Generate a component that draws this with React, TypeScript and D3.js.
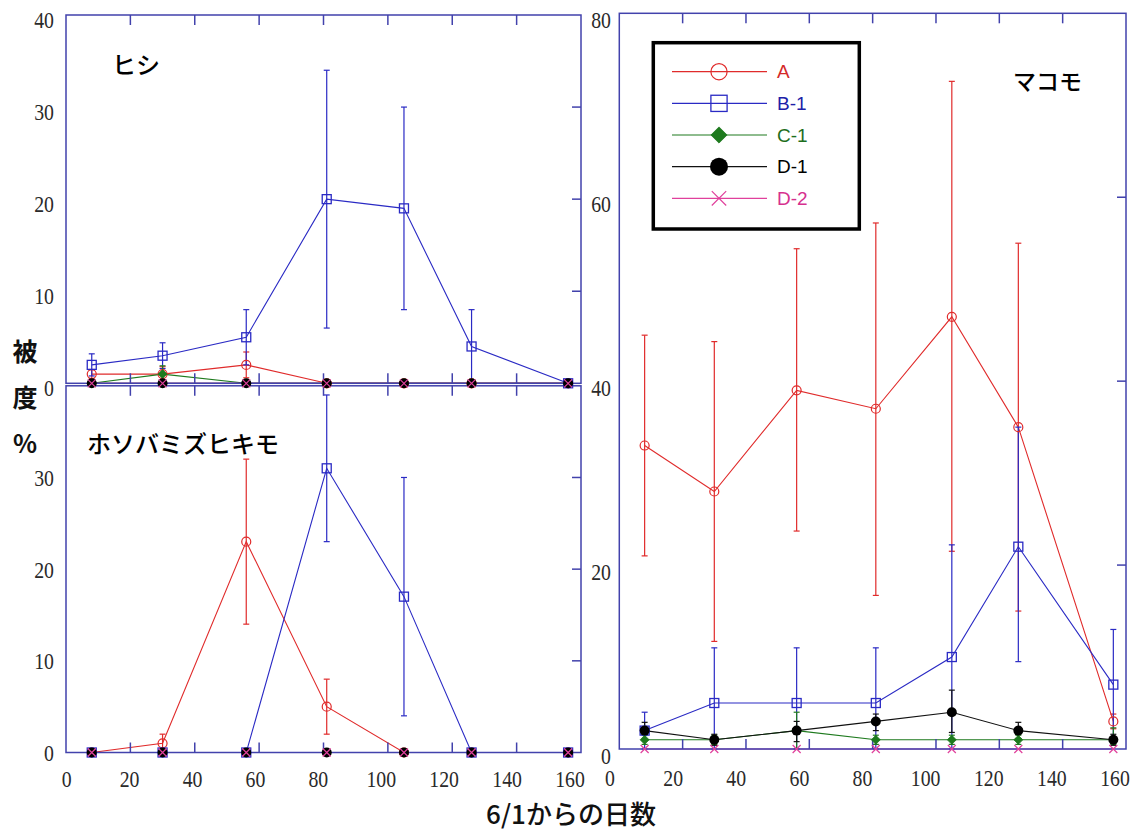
import React from "react";
import * as d3 from "d3";

// ---- data ----
const DAYS = [8, 30, 56, 81, 105, 126, 156];
const X_TICKS = [0, 20, 40, 60, 80, 100, 120, 140, 160];
const SERIES_NAMES = ["A", "B-1", "C-1", "D-1", "D-2"];

// ヒシ (top-left)
const hishiA = [1, 1, 2, 0, 0, 0, 0];
const hishiAHi = [1.5, 1.8, 3.4, 0.3, 0.3, 0.3, 0];
const hishiALo = [0.5, 0.2, 0.6, 0, 0, 0, 0];
const hishiB1 = [2, 3, 5, 20, 19, 4, 0];
const hishiB1Hi = [3.2, 4.4, 8, 34, 30, 8, 0];
const hishiB1Lo = [0.8, 1.6, 2, 6, 8, 0, 0];
const hishiC1 = [0, 1, 0, 0, 0, 0, 0];
const hishiC1Hi = [0, 1.9, 0, 0, 0, 0, 0];
const hishiC1Lo = [0, 0.1, 0, 0, 0, 0, 0];
const hishiD1 = [0, 0, 0, 0, 0, 0, 0];
const hishiD2 = [0, 0, 0, 0, 0, 0, 0];

// ホソバミズヒキモ (bottom-left)
const hosobaA = [0, 1, 23, 5, 0, 0, 0];
const hosobaAHi = [0, 2, 32, 8, 0, 0, 0];
const hosobaALo = [0, 0, 14, 2, 0, 0, 0];
const hosobaB1 = [0, 0, 0, 31, 17, 0, 0];
const hosobaB1Hi = [0, 0, 0, 39, 30, 0, 0];
const hosobaB1Lo = [0, 0, 0, 23, 4, 0, 0];
const hosobaC1 = [0, 0, 0, 0, 0, 0, 0];
const hosobaD1 = [0, 0, 0, 0, 0, 0, 0];
const hosobaD2 = [0, 0, 0, 0, 0, 0, 0];

// マコモ (right)
const makomoA = [33, 28, 39, 37, 47, 35, 3];
const makomoAHi = [45, 44.3, 54.4, 57.2, 72.6, 55, 3.8];
const makomoALo = [21, 11.7, 23.7, 16.7, 21.5, 15, 2.2];
const makomoB1 = [2, 5, 5, 5, 10, 22, 7];
const makomoB1Hi = [4, 11, 11, 11, 22.2, 35, 13];
const makomoB1Lo = [0, 0, 0, 0, 0, 9.5, 1];
const makomoC1 = [1, 1, 2, 1, 1, 1, 1];
const makomoC1Hi = [1.5, 1.5, 4, 1.5, 1.5, 1.5, 2.3];
const makomoC1Lo = [0.5, 0.5, 0, 0.5, 0.5, 0.5, 0.5];
const makomoD1 = [2, 1, 2, 3, 4, 2, 1];
const makomoD1Hi = [2.9, 1.6, 3, 3.8, 6.4, 2.9, 1.6];
const makomoD1Lo = [1, 0.4, 0.8, 2, 1.8, 1.1, 0.4];
const makomoD2 = [0, 0, 0, 0, 0, 0, 0];

// ---- styles ----
const COLORS = ["#e02b2b", "#2a2ac4", "#1e7a1e", "#111111", "#e0409c"];
const TEXT_COLORS = ["#d42a2a", "#2020a8", "#1e6e1e", "#000000", "#d6308e"];
const AXIS = "#4242ac";
const NUM_FONT = "'Liberation Serif', 'DejaVu Serif', serif";
const JP_FONT = "'Noto Sans CJK JP', 'Noto Sans', sans-serif";

type S = { v: number[]; hi?: number[]; lo?: number[] };
type Sc = d3.ScaleLinear<number, number>;

const hishiSeries: S[] = [
  { v: hishiA, hi: hishiAHi, lo: hishiALo },
  { v: hishiB1, hi: hishiB1Hi, lo: hishiB1Lo },
  { v: hishiC1, hi: hishiC1Hi, lo: hishiC1Lo },
  { v: hishiD1 },
  { v: hishiD2 },
];
const hosobaSeries: S[] = [
  { v: hosobaA, hi: hosobaAHi, lo: hosobaALo },
  { v: hosobaB1, hi: hosobaB1Hi, lo: hosobaB1Lo },
  { v: hosobaC1 },
  { v: hosobaD1 },
  { v: hosobaD2 },
];
const makomoSeries: S[] = [
  { v: makomoA, hi: makomoAHi, lo: makomoALo },
  { v: makomoB1, hi: makomoB1Hi, lo: makomoB1Lo },
  { v: makomoC1, hi: makomoC1Hi, lo: makomoC1Lo },
  { v: makomoD1, hi: makomoD1Hi, lo: makomoD1Lo },
  { v: makomoD2 },
];

function Marker({ i, x, y, k = 1 }: { i: number; x: number; y: number; k?: number }) {
  const c = COLORS[i];
  if (i === 0) return <circle cx={x} cy={y} r={4.5 * k} fill="none" stroke={c} strokeWidth={1.2} />;
  if (i === 1)
    return <rect x={x - 4.5 * k} y={y - 4.5 * k} width={9 * k} height={9 * k} fill="none" stroke={c} strokeWidth={1.3} />;
  if (i === 2) {
    const s = 4.5 * k;
    return <path d={`M${x},${y - s}L${x + s},${y}L${x},${y + s}L${x - s},${y}Z`} fill={c} stroke={c} strokeWidth={0.8} />;
  }
  if (i === 3) return <circle cx={x} cy={y} r={5 * k} fill="#000" />;
  const s = 4 * k;
  return (
    <path
      d={`M${x - s},${y - s}L${x + s},${y + s}M${x - s},${y + s}L${x + s},${y - s}`}
      stroke={c}
      strokeWidth={1.2}
      fill="none"
    />
  );
}

function SeriesLines({ s, i, x, y }: { s: S; i: number; x: Sc; y: Sc }) {
  const c = COLORS[i];
  const pts = s.v.map((v, j) => [DAYS[j], v] as [number, number]);
  const line = d3.line<[number, number]>().x((d) => x(d[0])).y((d) => y(d[1]));
  return (
    <g>
      {s.hi &&
        s.v.map((v, j) => {
          const hi = s.hi![j];
          const lo = Math.max(0, s.lo ? s.lo[j] : v);
          if (hi === v && lo === v) return null;
          const xx = x(DAYS[j]);
          return (
            <g key={j} stroke={c} strokeWidth={1.2}>
              <line x1={xx} x2={xx} y1={y(lo)} y2={y(hi)} />
              {hi !== v && <line x1={xx - 3} x2={xx + 3} y1={y(hi)} y2={y(hi)} />}
              {lo !== v && <line x1={xx - 3} x2={xx + 3} y1={y(lo)} y2={y(lo)} />}
            </g>
          );
        })}
      <path d={line(pts) || ""} fill="none" stroke={c} strokeWidth={1.1} />
    </g>
  );
}

function SeriesMarkers({ s, i, x, y }: { s: S; i: number; x: Sc; y: Sc }) {
  return (
    <g>
      {s.v.map((v, j) => (
        <Marker key={j} i={i} x={x(DAYS[j])} y={y(v)} />
      ))}
    </g>
  );
}

function Num({ x, y, t, anchor = "middle" }: { x: number; y: number; t: string; anchor?: string }) {
  return (
    <text
      transform={`translate(${x},${y}) scale(0.86,1)`}
      textAnchor={anchor as any}
      dominantBaseline="central"
      fontFamily={NUM_FONT}
      fontSize={23}
      fill="#2a2a2a"
    >
      {t}
    </text>
  );
}

function Frame({ x, y, top, bottom, rightTicks }: { x: Sc; y: Sc; top: number; bottom: number; rightTicks: number[] }) {
  const [x0, x1] = x.range();
  const inner = X_TICKS.filter((t) => t > 0 && t < 160);
  return (
    <g stroke={AXIS} strokeWidth={1.5} fill="none">
      <rect x={x0} y={top} width={x1 - x0} height={bottom - top} />
      {inner.map((t) => (
        <g key={t}>
          <line x1={x(t)} x2={x(t)} y1={top} y2={top + 10} />
          <line x1={x(t)} x2={x(t)} y1={bottom} y2={bottom - 10} />
        </g>
      ))}
      {rightTicks.map((t) => (
        <line key={t} x1={x1} x2={x1 - 9} y1={y(t)} y2={y(t)} />
      ))}
    </g>
  );
}

export default function App() {
  const xL = d3.scaleLinear().domain([0, 160]).range([66, 581]);
  const xR = d3.scaleLinear().domain([0, 160]).range([619.3, 1126]);
  const xLabL = d3.scaleLinear().domain([0, 160]).range([66.7, 570]);
  const xLabR = d3.scaleLinear().domain([0, 160]).range([610, 1115]);
  const yTop = d3.scaleLinear().domain([0, 40]).range([383.3, 15]);
  const yBot = d3.scaleLinear().domain([0, 40]).range([752.5, 385.8]);
  const yR = d3.scaleLinear().domain([0, 80]).range([749, 13.3]);

  const legendY = d3.scaleLinear().domain([0, 4]).range([71.7, 198.3]);

  const panels = [
    { key: "h", series: hishiSeries, x: xL, y: yTop },
    { key: "b", series: hosobaSeries, x: xL, y: yBot },
    { key: "m", series: makomoSeries, x: xR, y: yR },
  ];

  return (
    <svg width={1139} height={832} style={{ position: "absolute", left: 0, top: 0, background: "#fff" }}>
      <rect width={1139} height={832} fill="#fff" />

      {/* series lines and error bars */}
      {panels.map((p) =>
        p.series.map((s, i) => <SeriesLines key={p.key + "l" + i} s={s} i={i} x={p.x} y={p.y} />)
      )}

      {/* frames */}
      <Frame x={xL} y={yTop} top={15} bottom={383.3} rightTicks={[10, 20, 30]} />
      <Frame x={xL} y={yBot} top={385.8} bottom={752.5} rightTicks={[10, 20, 30]} />
      <Frame x={xR} y={yR} top={13.3} bottom={749} rightTicks={[20, 40, 60]} />

      {/* markers */}
      {panels.map((p) =>
        p.series.map((s, i) => <SeriesMarkers key={p.key + "m" + i} s={s} i={i} x={p.x} y={p.y} />)
      )}

      {/* y tick labels */}
      {[0, 10, 20, 30, 40].map((t) => (
        <Num key={"yt" + t} x={54} y={yTop(t) + 5} t={String(t)} anchor="end" />
      ))}
      {[0, 10, 20, 30].map((t) => (
        <Num key={"yb" + t} x={54} y={yBot(t) + 1} t={String(t)} anchor="end" />
      ))}
      {[0, 20, 40, 60, 80].map((t) => (
        <Num key={"yr" + t} x={611} y={yR(t) + 7} t={String(t)} anchor="end" />
      ))}

      {/* x tick labels */}
      {X_TICKS.map((t) => (
        <Num key={"xl" + t} x={xLabL(t)} y={779} t={String(t)} />
      ))}
      {X_TICKS.map((t) => (
        <Num key={"xr" + t} x={xLabR(t)} y={778} t={String(t)} />
      ))}

      {/* panel titles */}
      <text x={112} y={63} dominantBaseline="central" fontFamily={JP_FONT} fontSize={24} fontWeight={500} fill="#000">
        ヒシ
      </text>
      <text x={87} y={442} dominantBaseline="central" fontFamily={JP_FONT} fontSize={24} fontWeight={500} fill="#000">
        ホソバミズヒキモ
      </text>
      <text x={1013} y={80} dominantBaseline="central" fontFamily={JP_FONT} fontSize={23} fontWeight={500} fill="#000">
        マコモ
      </text>

      {/* axis titles */}
      {["被", "度", "%"].map((ch, i) => (
        <text
          key={ch}
          x={25}
          y={350 + i * 46}
          textAnchor="middle"
          dominantBaseline="central"
          fontFamily={JP_FONT}
          fontSize={25}
          fontWeight={700}
          fill="#111"
        >
          {ch}
        </text>
      ))}
      <text
        x={571}
        y={812}
        textAnchor="middle"
        dominantBaseline="central"
        fontFamily={JP_FONT}
        fontSize={26}
        fontWeight={500}
        fill="#111"
      >
        6/1からの日数
      </text>

      {/* legend */}
      <rect x={653.3} y={42.7} width={206} height={186.3} fill="#fff" stroke="#000" strokeWidth={3.5} />
      {SERIES_NAMES.map((name, i) => {
        const ly = legendY(i);
        return (
          <g key={name}>
            <line x1={672} x2={767} y1={ly} y2={ly} stroke={COLORS[i]} strokeWidth={1.2} />
            <Marker i={i} x={719} y={ly} k={1.8} />
            <text
              x={777}
              y={ly}
              dominantBaseline="central"
              fontFamily="'Liberation Sans', Arial, sans-serif"
              fontSize={19}
              fill={TEXT_COLORS[i]}
            >
              {name}
            </text>
          </g>
        );
      })}
    </svg>
  );
}
